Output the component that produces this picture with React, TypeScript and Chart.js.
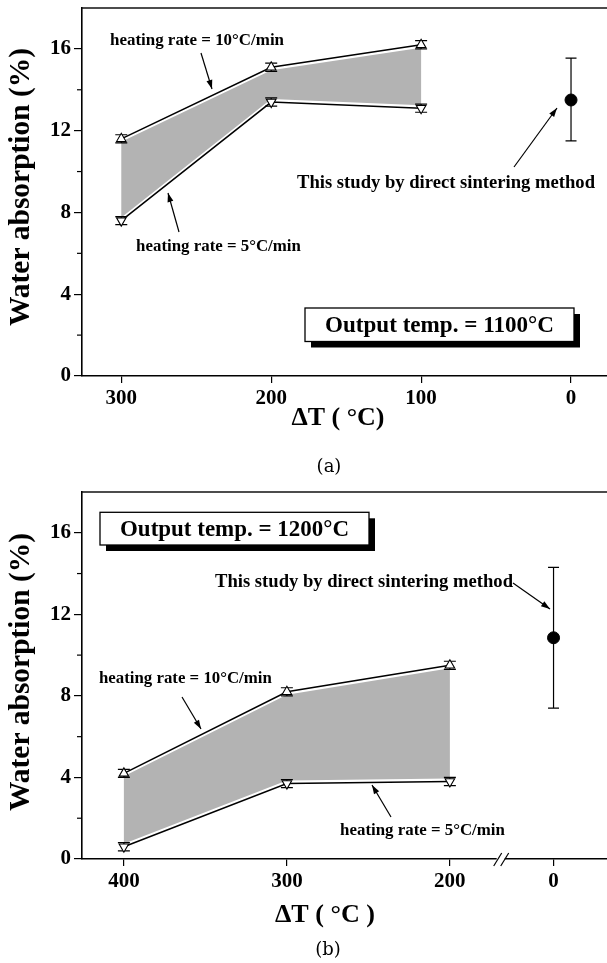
import React, { useEffect, useRef } from 'react';
import { Chart, registerables } from 'chart.js';

Chart.register(...registerables);

// ---------- Panel (a): output temp. = 1100 °C ----------
const A_DT = [300, 200, 100];
const A_RATE10 = [11.6, 15.1, 16.2];
const A_RATE10_ERR = [0.2, 0.2, 0.2];
const A_RATE5 = [7.6, 13.4, 13.1];
const A_RATE5_ERR = [0.2, 0.2, 0.2];
const A_DIRECT_DT = [0];
const A_DIRECT = [13.5];
const A_DIRECT_LOW = [11.5];
const A_DIRECT_HIGH = [15.55];
const A_X_TICKS = [300, 200, 100, 0];

// ---------- Panel (b): output temp. = 1200 °C ----------
const B_DT = [400, 300, 200];
const B_RATE10 = [4.2, 8.2, 9.5];
const B_RATE10_ERR = [0.2, 0.2, 0.2];
const B_RATE5 = [0.6, 3.7, 3.8];
const B_RATE5_ERR = [0.2, 0.2, 0.2];
const B_DIRECT_DT = [0];
const B_DIRECT = [10.85];
const B_DIRECT_LOW = [7.4];
const B_DIRECT_HIGH = [14.3];
const B_X_TICKS = [400, 300, 200, 0];
// axis-unit position where the value after the "//" break (ΔT = 0) is drawn
const B_BREAK_POS = 136.4;

const Y_MAJOR = [0, 4, 8, 12, 16];
const Y_MINOR = [2, 6, 10, 14];

const SERIF = "'Liberation Serif', 'Times New Roman', serif";
const FILL = '#b3b3b3';

type Arrow = [number, number, number, number];
type Txt = { t: string; cx: number; cy: number; w: number };

interface PanelCfg {
  dt: number[];
  upper: number[];
  upperErr: number[];
  lower: number[];
  lowerErr: number[];
  directDt: number[];
  direct: number[];
  directLow: number[];
  directHigh: number[];
  xTicks: number[];
  mapX: (v: number) => number;
  xMin: number;
  xMax: number;
  broken: boolean;
  canvasTop: number;
  height: number;
  padTop: number;
  axisBottom: number;
  texts: Txt[];
  arrows: Arrow[];
  box: { x: number; y: number; w: number; h: number; t: string; tw: number };
  yTitle: Txt;
  xTitle: Txt;
  caption: { t: string; cx: number; cy: number };
}

function fitFont(ctx: CanvasRenderingContext2D, text: string, width: number, bold = true) {
  const w = bold ? 'bold ' : '';
  ctx.font = `${w}20px ${SERIF}`;
  const m = ctx.measureText(text).width;
  const size = (20 * width) / m;
  return `${w}${size.toFixed(2)}px ${SERIF}`;
}

function drawText(ctx: CanvasRenderingContext2D, t: Txt, off: number) {
  ctx.font = fitFont(ctx, t.t, t.w);
  ctx.textAlign = 'center';
  ctx.textBaseline = 'middle';
  ctx.fillStyle = '#000';
  ctx.fillText(t.t, t.cx, t.cy - off);
}

function drawArrow(ctx: CanvasRenderingContext2D, a: Arrow, off: number) {
  const [x1, y1r, x2, y2r] = a;
  const y1 = y1r - off;
  const y2 = y2r - off;
  ctx.strokeStyle = '#000';
  ctx.fillStyle = '#000';
  ctx.lineWidth = 1.2;
  ctx.beginPath();
  ctx.moveTo(x1, y1);
  ctx.lineTo(x2, y2);
  ctx.stroke();
  const ang = Math.atan2(y2 - y1, x2 - x1);
  const L = 9;
  const W = 3;
  const bx = x2 - L * Math.cos(ang);
  const by = y2 - L * Math.sin(ang);
  ctx.beginPath();
  ctx.moveTo(x2, y2);
  ctx.lineTo(bx + W * Math.sin(ang), by - W * Math.cos(ang));
  ctx.lineTo(bx - W * Math.sin(ang), by + W * Math.cos(ang));
  ctx.closePath();
  ctx.fill();
}

function makePlugin(cfg: PanelCfg) {
  const off = cfg.canvasTop;
  return {
    id: 'panelDecor',
    beforeDatasetsDraw(chart: any) {
      const ctx: CanvasRenderingContext2D = chart.ctx;
      const xs = chart.scales.x;
      const ys = chart.scales.y;
      const INSET = 3;
      ctx.save();
      // shaded band between the two heating-rate curves
      ctx.beginPath();
      cfg.dt.forEach((d, i) => {
        const X = xs.getPixelForValue(cfg.mapX(d));
        const Y = ys.getPixelForValue(cfg.upper[i]) + INSET;
        if (i === 0) ctx.moveTo(X, Y);
        else ctx.lineTo(X, Y);
      });
      for (let i = cfg.dt.length - 1; i >= 0; i--) {
        const X = xs.getPixelForValue(cfg.mapX(cfg.dt[i]));
        const Y = ys.getPixelForValue(cfg.lower[i]) - INSET;
        ctx.lineTo(X, Y);
      }
      ctx.closePath();
      ctx.fillStyle = FILL;
      ctx.fill();

      // error bars
      ctx.strokeStyle = '#000';
      ctx.lineWidth = 1.2;
      const bar = (xv: number, lo: number, hi: number, cap: number) => {
        const X = xs.getPixelForValue(xv);
        const Y1 = ys.getPixelForValue(lo);
        const Y2 = ys.getPixelForValue(hi);
        ctx.beginPath();
        ctx.moveTo(X, Y1);
        ctx.lineTo(X, Y2);
        ctx.moveTo(X - cap, Y1);
        ctx.lineTo(X + cap, Y1);
        ctx.moveTo(X - cap, Y2);
        ctx.lineTo(X + cap, Y2);
        ctx.stroke();
      };
      cfg.dt.forEach((d, i) => {
        bar(cfg.mapX(d), cfg.upper[i] - cfg.upperErr[i], cfg.upper[i] + cfg.upperErr[i], 6);
        bar(cfg.mapX(d), cfg.lower[i] - cfg.lowerErr[i], cfg.lower[i] + cfg.lowerErr[i], 6);
      });
      cfg.directDt.forEach((d, i) => {
        bar(cfg.mapX(d), cfg.directLow[i], cfg.directHigh[i], 5.5);
      });
      ctx.restore();
    },
    afterDraw(chart: any) {
      const ctx: CanvasRenderingContext2D = chart.ctx;
      const xs = chart.scales.x;
      const ys = chart.scales.y;
      const ca = chart.chartArea;
      ctx.save();
      // top frame line
      ctx.strokeStyle = '#111';
      ctx.lineWidth = 1.5;
      ctx.beginPath();
      ctx.moveTo(ca.left, ca.top);
      ctx.lineTo(ca.right, ca.top);
      ctx.stroke();
      // minor y ticks
      ctx.lineWidth = 1.2;
      ctx.strokeStyle = '#000';
      Y_MINOR.forEach((v) => {
        const Y = ys.getPixelForValue(v);
        ctx.beginPath();
        ctx.moveTo(ca.left, Y);
        ctx.lineTo(ca.left - 5, Y);
        ctx.stroke();
      });
      // axis break marks
      if (cfg.broken) {
        const xa = xs.getPixelForValue(cfg.mapX(cfg.dt[cfg.dt.length - 1]));
        const xb = xs.getPixelForValue(cfg.mapX(cfg.directDt[0]));
        const xm = (xa + xb) / 2;
        const yb = ca.bottom;
        ctx.fillStyle = '#fff';
        ctx.fillRect(xm - 5, yb - 2, 8, 4);
        ctx.lineWidth = 1.2;
        [-4, 3].forEach((dx) => {
          ctx.beginPath();
          ctx.moveTo(xm + dx - 4, yb + 7);
          ctx.lineTo(xm + dx + 4, yb - 6);
          ctx.stroke();
        });
      }
      // annotations
      cfg.texts.forEach((t) => drawText(ctx, t, off));
      cfg.arrows.forEach((a) => drawArrow(ctx, a, off));
      // boxed label with shadow
      const b = cfg.box;
      ctx.fillStyle = '#000';
      ctx.fillRect(b.x + 6, b.y - off + 6, b.w, b.h);
      ctx.fillStyle = '#fff';
      ctx.fillRect(b.x, b.y - off, b.w, b.h);
      ctx.strokeStyle = '#000';
      ctx.lineWidth = 1.3;
      ctx.strokeRect(b.x, b.y - off, b.w, b.h);
      drawText(ctx, { t: b.t, cx: b.x + b.w / 2, cy: b.y + b.h / 2 + 1, w: b.tw }, off);
      // axis titles
      ctx.save();
      ctx.translate(cfg.yTitle.cx, cfg.yTitle.cy - off);
      ctx.rotate(-Math.PI / 2);
      ctx.font = fitFont(ctx, cfg.yTitle.t, cfg.yTitle.w);
      ctx.textAlign = 'center';
      ctx.textBaseline = 'middle';
      ctx.fillStyle = '#000';
      ctx.fillText(cfg.yTitle.t, 0, 0);
      ctx.restore();
      drawText(ctx, cfg.xTitle, off);
      // caption
      ctx.font = `18px 'DejaVu Serif', ${SERIF}`;
      ctx.textAlign = 'center';
      ctx.textBaseline = 'middle';
      ctx.fillStyle = '#000';
      ctx.fillText(cfg.caption.t, cfg.caption.cx, cfg.caption.cy - off);
      ctx.restore();
    },
  };
}

function buildConfig(cfg: PanelCfg): any {
  const tickFont = { family: SERIF, size: 21, weight: 'bold' as const };
  const axisBottomHeight = cfg.height - (cfg.axisBottom - cfg.canvasTop);
  return {
    type: 'line',
    data: {
      datasets: [
        {
          data: cfg.dt.map((d, i) => ({ x: cfg.mapX(d), y: cfg.upper[i] })),
          borderColor: '#000',
          borderWidth: 1.5,
          pointStyle: 'triangle',
          pointRadius: 5.5,
          pointBackgroundColor: '#fff',
          pointBorderColor: '#000',
          pointBorderWidth: 1.1,
          tension: 0,
          fill: false,
        },
        {
          data: cfg.dt.map((d, i) => ({ x: cfg.mapX(d), y: cfg.lower[i] })),
          borderColor: '#000',
          borderWidth: 1.5,
          pointStyle: 'triangle',
          pointRotation: 180,
          pointRadius: 5.5,
          pointBackgroundColor: '#fff',
          pointBorderColor: '#000',
          pointBorderWidth: 1.1,
          tension: 0,
          fill: false,
        },
        {
          data: cfg.directDt.map((d, i) => ({ x: cfg.mapX(d), y: cfg.direct[i] })),
          showLine: false,
          pointStyle: 'circle',
          pointRadius: 6,
          pointBackgroundColor: '#000',
          pointBorderColor: '#000',
          borderColor: '#000',
        },
      ],
    },
    options: {
      animation: false,
      responsive: false,
      maintainAspectRatio: false,
      devicePixelRatio: 1,
      events: [],
      layout: { autoPadding: false, padding: { top: cfg.padTop, right: 0, left: 0, bottom: 0 } },
      plugins: {
        legend: { display: false },
        tooltip: { enabled: false },
        title: { display: false },
      },
      scales: {
        x: {
          type: 'linear',
          reverse: true,
          min: cfg.xMin,
          max: cfg.xMax,
          afterBuildTicks: (s: any) => {
            s.ticks = cfg.xTicks.map((v) => ({ value: cfg.mapX(v) }));
          },
          afterFit: (s: any) => {
            s.height = axisBottomHeight;
            s.paddingLeft = 0;
            s.paddingRight = 0;
          },
          ticks: {
            font: tickFont,
            color: '#000',
            padding: 3,
            maxRotation: 0,
            autoSkip: false,
            callback: (v: number) => {
              const i = cfg.xTicks.findIndex((t) => cfg.mapX(t) === v);
              return i >= 0 ? String(cfg.xTicks[i]) : '';
            },
          },
          grid: {
            drawOnChartArea: false,
            drawTicks: true,
            tickLength: 7,
            color: '#000',
            lineWidth: 1.2,
          },
          border: { display: true, color: '#000', width: 1.6 },
        },
        y: {
          min: 0,
          max: 18,
          afterBuildTicks: (s: any) => {
            s.ticks = Y_MAJOR.map((v) => ({ value: v }));
          },
          afterFit: (s: any) => {
            s.width = 82;
            s.paddingTop = 0;
            s.paddingBottom = 0;
          },
          ticks: {
            font: tickFont,
            color: '#000',
            padding: 3,
            callback: (v: number) => String(v),
          },
          grid: {
            drawOnChartArea: false,
            drawTicks: true,
            tickLength: 8,
            color: '#000',
            lineWidth: 1.2,
          },
          border: { display: true, color: '#000', width: 1.6 },
        },
      },
    },
    plugins: [makePlugin(cfg)],
  };
}

const PANEL_A: PanelCfg = {
  dt: A_DT,
  upper: A_RATE10,
  upperErr: A_RATE10_ERR,
  lower: A_RATE5,
  lowerErr: A_RATE5_ERR,
  directDt: A_DIRECT_DT,
  direct: A_DIRECT,
  directLow: A_DIRECT_LOW,
  directHigh: A_DIRECT_HIGH,
  xTicks: A_X_TICKS,
  mapX: (v) => v,
  xMin: -24,
  xMax: 326.2,
  broken: false,
  canvasTop: 0,
  height: 480,
  padTop: 8,
  axisBottom: 376,
  texts: [
    { t: 'heating rate = 10°C/min', cx: 197, cy: 41, w: 174 },
    { t: 'heating rate = 5°C/min', cx: 218.5, cy: 247, w: 165 },
    { t: 'This study by direct sintering method', cx: 446, cy: 183, w: 298 },
  ],
  arrows: [
    [201, 53, 212, 89],
    [179, 232, 168, 193],
    [514, 167, 557, 108],
  ],
  box: { x: 305, y: 308, w: 269, h: 33.5, t: 'Output temp. = 1100°C', tw: 229 },
  yTitle: { t: 'Water absorption (%)', cx: 21, cy: 187, w: 278 },
  xTitle: { t: 'ΔT ( °C)', cx: 338, cy: 418, w: 93 },
  caption: { t: '(a)', cx: 329, cy: 467 },
};

const PANEL_B: PanelCfg = {
  dt: B_DT,
  upper: B_RATE10,
  upperErr: B_RATE10_ERR,
  lower: B_RATE5,
  lowerErr: B_RATE5_ERR,
  directDt: B_DIRECT_DT,
  direct: B_DIRECT,
  directLow: B_DIRECT_LOW,
  directHigh: B_DIRECT_HIGH,
  xTicks: B_X_TICKS,
  mapX: (v) => (v === 0 ? B_BREAK_POS : v),
  xMin: 103.6,
  xMax: 425.7,
  broken: true,
  canvasTop: 480,
  height: 483,
  padTop: 12,
  axisBottom: 859,
  texts: [
    { t: 'heating rate = 10°C/min', cx: 185.4, cy: 679, w: 173 },
    { t: 'heating rate = 5°C/min', cx: 422.5, cy: 831, w: 165 },
    { t: 'This study by direct sintering method', cx: 364, cy: 582, w: 298 },
  ],
  arrows: [
    [182, 697, 201, 729],
    [391, 817, 372, 785],
    [513, 583, 550, 609],
  ],
  box: { x: 100, y: 512.3, w: 269, h: 32.7, t: 'Output temp. = 1200°C', tw: 229 },
  yTitle: { t: 'Water absorption (%)', cx: 21, cy: 672, w: 278 },
  xTitle: { t: 'ΔT ( °C )', cx: 325, cy: 915, w: 100 },
  caption: { t: '(b)', cx: 328, cy: 950 },
};

function Panel({ cfg }: { cfg: PanelCfg }) {
  const ref = useRef<HTMLCanvasElement | null>(null);
  useEffect(() => {
    if (!ref.current) return;
    const chart = new Chart(ref.current, buildConfig(cfg));
    return () => chart.destroy();
  }, [cfg]);
  return (
    <canvas
      ref={ref}
      width={607}
      height={cfg.height}
      style={{
        position: 'absolute',
        left: 0,
        top: cfg.canvasTop,
        width: 607,
        height: cfg.height,
        display: 'block',
      }}
    />
  );
}

export default function App() {
  return (
    <div
      style={{
        position: 'absolute',
        left: 0,
        top: 0,
        width: 607,
        height: 963,
        background: '#fff',
        overflow: 'hidden',
      }}
    >
      <Panel cfg={PANEL_A} />
      <Panel cfg={PANEL_B} />
    </div>
  );
}
